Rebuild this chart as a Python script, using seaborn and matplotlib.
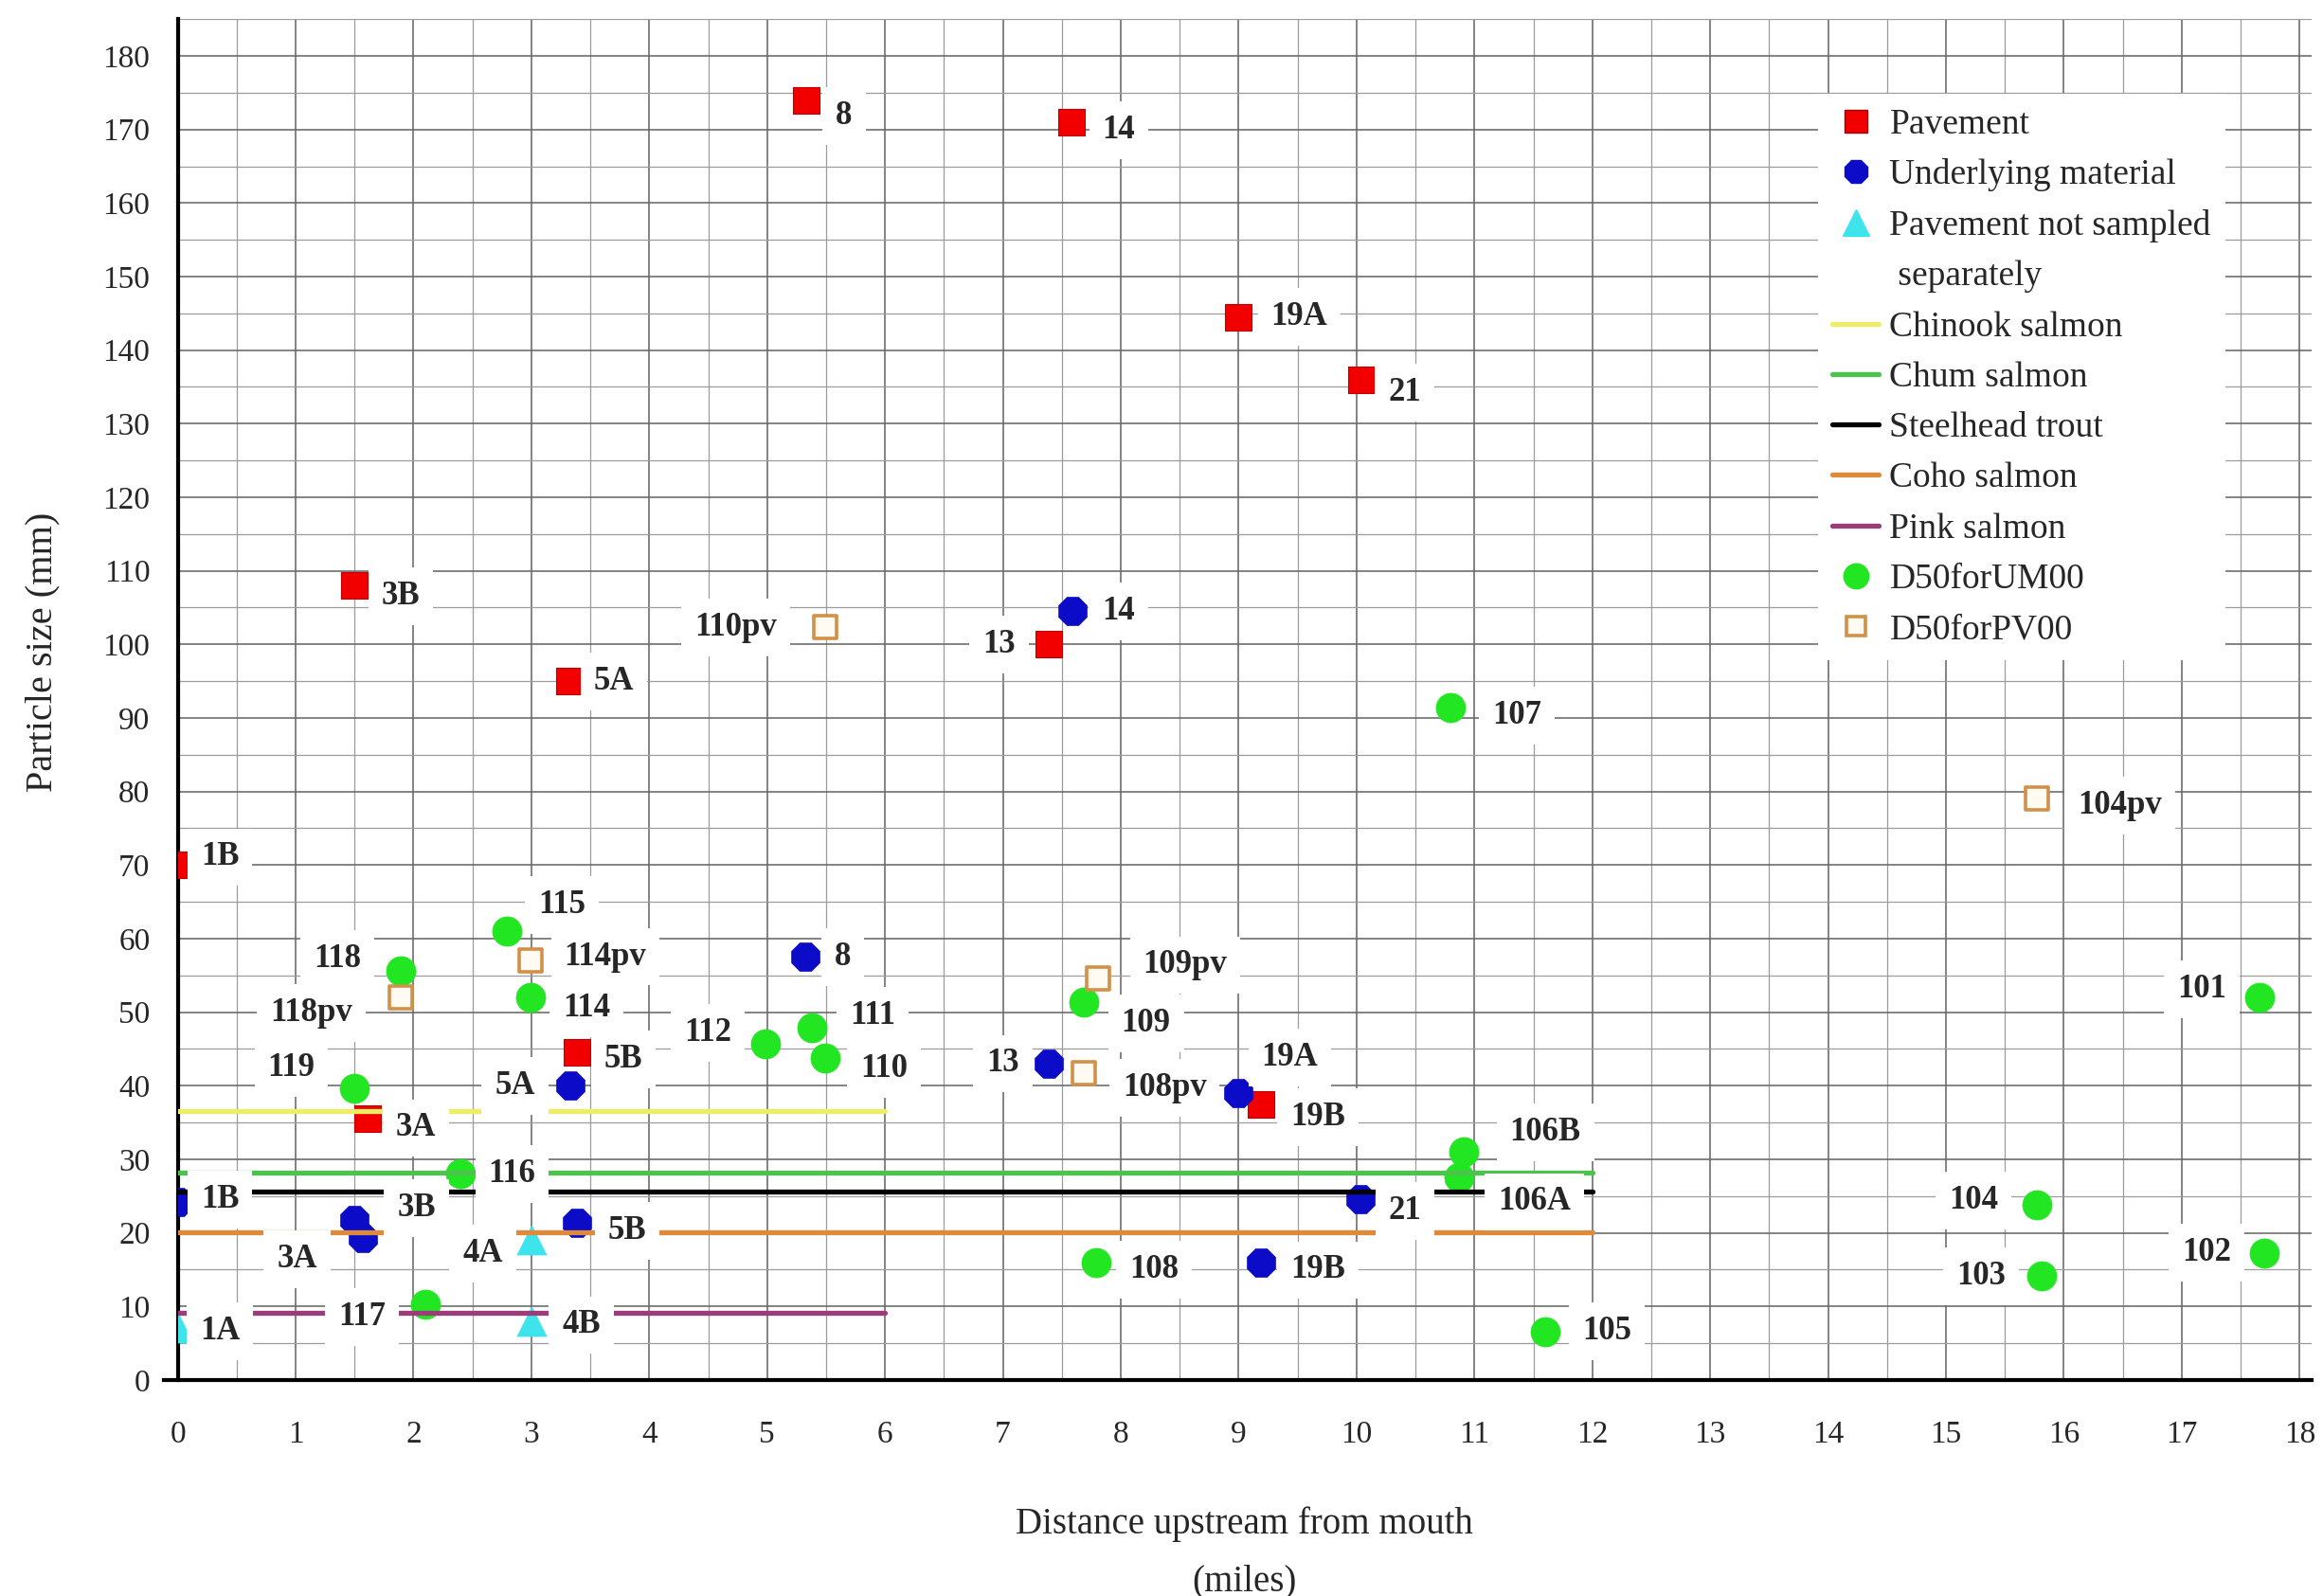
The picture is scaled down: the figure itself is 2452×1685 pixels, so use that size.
import matplotlib
matplotlib.use("Agg")
import matplotlib.pyplot as plt
import numpy as np
import pandas as pd
import seaborn as sns
from matplotlib.lines import Line2D
from matplotlib.ticker import MultipleLocator

# ---------------------------------------------------------------------------
# Sampling sites: distance upstream from the mouth (miles) and particle size (mm)
# ---------------------------------------------------------------------------
pavement_sites = ["8", "14", "19A", "21", "3B", "5A", "13", "1B", "5B", "3A", "19B"]
pavement_miles = [5.33, 7.58, 9.0, 10.04, 1.5, 3.32, 7.39, 0.0, 3.39, 1.61, 9.19]
pavement_mm = [174, 171, 144.5, 136, 108, 95, 100, 70, 44.5, 35.5, 37.5]

under_sites = ["14", "8", "13", "5A", "19A", "1B", "3B", "3A", "5B", "21", "19B"]
under_miles = [7.59, 5.32, 7.39, 3.33, 9.0, 0.0, 1.5, 1.57, 3.39, 10.03, 9.19]
under_mm = [104.5, 57.5, 43, 40, 39, 24.2, 21.7, 19.3, 21.3, 24.6, 16]

nosep_sites = ["1A", "4A", "4B"]
nosep_miles = [0.0, 3.0, 3.0]
nosep_mm = [7, 19, 8]

um00_sites = ["107", "115", "118", "114", "112", "111", "110", "109", "119", "116",
              "117", "108", "106B", "106A", "105", "104", "103", "102", "101"]
um00_miles = [10.8, 2.79, 1.89, 2.99, 4.99, 5.38, 5.49, 7.69, 1.5, 2.4,
              2.1, 7.79, 10.91, 10.87, 11.6, 15.77, 15.81, 17.7, 17.66]
um00_mm = [91.4, 61, 55.6, 52, 45.7, 47.9, 43.7, 51.3, 39.7, 28,
           10.3, 15.9, 31, 27.6, 6.6, 23.8, 14.1, 17.3, 52]

pv00_sites = ["110pv", "104pv", "114pv", "118pv", "109pv", "108pv"]
pv00_miles = [5.49, 15.77, 2.99, 1.89, 7.81, 7.69]
pv00_mm = [102.3, 79, 57, 52, 54.6, 41.7]

# Spawning-gravel size criteria by species, and the reach they apply to
species = ["Chinook salmon", "Chum salmon", "Steelhead trout", "Coho salmon", "Pink salmon"]
species_mm = [36.5, 28.2, 25.6, 20.1, 9.1]
species_reach_end = [6, 12, 12, 12, 6]

x_ticks = list(range(0, 19))
y_ticks = list(range(0, 181, 10))

# ---------------------------------------------------------------------------
# Styling
# ---------------------------------------------------------------------------
sns.set_style("white")
plt.rcParams["font.family"] = ["Liberation Serif", "DejaVu Serif"]

species_colors = ["#eeee66", "#4cc44c", "#000000", "#de8a3a", "#9c3c7a"]

# label offsets (points) relative to each marker
label_offsets = {
    "pavement": [(29, -12), (36, -6), (46, 0), (33, -10), (35, -8), (34, 0),
                 (-38, 0), (32, 6), (35, -5), (37, -7), (43, -10)],
    "under": [(35, 0), (29, 0), (-35, 0), (-42, 0), (39, 27), (32, 2),
              (47, 9), (-50, -16), (38, -6), (34, -9), (43, -6)],
    "nosep": [(32, -2), (-37, -10), (38, -3)],
    "um00": [(50, -6), (42, 20), (-48, 9), (43, -8), (-44, 8), (46, 9), (45, -8),
             (47, -16), (-48, 15), (39, 0), (-48, -10), (44, -5), (62, 15),
             (57, -19), (47, 0), (-48, 3), (-46, 0), (-44, 0), (-44, 6)],
    "pv00": [(-68, 0), (63, -5), (57, 3), (-68, -12), (66, 10), (61, -11)],
}

fig = plt.figure(figsize=(24.52, 16.85), dpi=100)
ax = fig.add_axes([0.0765, 0.1354, 0.9185, 0.8526])

# species criteria lines
for name, val, end, col in zip(species, species_mm, species_reach_end, species_colors):
    sns.lineplot(x=[0, end], y=[val, val], color=col, linewidth=3.8,
                 ax=ax, zorder=4, legend=False)

groups = [
    ("pavement", pavement_sites, pavement_miles, pavement_mm,
     dict(marker="s", s=390, color="#f20000", edgecolor="#c00000", linewidth=0.8)),
    ("under", under_sites, under_miles, under_mm,
     dict(marker="8", s=540, color="#0b0bc8", edgecolor="#0b0bc8", linewidth=0.5)),
    ("nosep", nosep_sites, nosep_miles, nosep_mm,
     dict(marker="^", s=500, color="#3ee4ec", edgecolor="#3ee4ec", linewidth=0.5)),
    ("um00", um00_sites, um00_miles, um00_mm,
     dict(marker="o", s=500, color="#22e622", edgecolor="#22e622", linewidth=0.5)),
    ("pv00", pv00_sites, pv00_miles, pv00_mm,
     dict(marker="s", s=310, facecolor="#fffaf2", edgecolor="#d29048", linewidth=2.6)),
]

for key, sites, miles, mm, kw in groups:
    df = pd.DataFrame({"miles": miles, "mm": mm, "site": sites})
    sns.scatterplot(data=df, x="miles", y="mm", ax=ax, zorder=3, legend=False, **kw)
    for (site, xv, yv), (dx, dy) in zip(zip(sites, miles, mm), label_offsets[key]):
        ax.annotate(site, (xv, yv), xytext=(dx, dy), textcoords="offset points",
                    ha="center", va="center", fontsize=25, fontweight="bold",
                    zorder=5,
                    bbox=dict(boxstyle="square,pad=0.4", facecolor="white",
                              edgecolor="none"))

# axes, ticks and grid
ax.set_xlim(0, 18.1)
ax.set_ylim(0, 185)
ax.set_xticks(x_ticks)
ax.set_yticks(y_ticks)
ax.xaxis.set_minor_locator(MultipleLocator(0.5))
ax.yaxis.set_minor_locator(MultipleLocator(5))
ax.grid(which="major", color="#686868", linewidth=1.15, zorder=0)
ax.grid(which="minor", color="#9c9c9c", linewidth=0.9, zorder=0)
ax.set_axisbelow(True)

for side in ("top", "right"):
    ax.spines[side].set_visible(False)
for side in ("left", "bottom"):
    ax.spines[side].set_linewidth(3.0)
    ax.spines[side].set_color("black")
ax.spines["bottom"].set_bounds(-0.12, 18.1)

ax.tick_params(axis="x", which="major", direction="out", length=17, width=2.6,
               pad=14, labelsize=24)
ax.tick_params(axis="x", which="minor", direction="out", length=9, width=2.6)
ax.tick_params(axis="y", which="major", direction="out", length=13, width=2.6,
               pad=8, labelsize=24)
ax.tick_params(axis="y", which="minor", direction="out", length=7, width=2.6)

ax.set_xlabel("Distance upstream from mouth\n(miles)", fontsize=28, linespacing=1.85)
ax.xaxis.label.set_va("center")
ax.xaxis.set_label_coords(0.5, -0.127)
ax.set_ylabel("Particle size (mm)", fontsize=29)
ax.yaxis.label.set_va("center")
ax.yaxis.set_label_coords(-0.0635, 0.535)

# legend
handles = [
    Line2D([], [], linestyle="none", marker="s", markersize=17,
           markerfacecolor="#f20000", markeredgecolor="#a00000"),
    Line2D([], [], linestyle="none", marker="8", markersize=19,
           markerfacecolor="#0b0bc8", markeredgecolor="#0b0bc8"),
    Line2D([], [], linestyle="none", marker="^", markersize=20,
           markerfacecolor="#3ee4ec", markeredgecolor="#3ee4ec"),
    Line2D([], [], linestyle="none"),
]
for col in species_colors:
    handles.append(Line2D([], [], color=col, linewidth=3.8))
handles += [
    Line2D([], [], linestyle="none", marker="o", markersize=19,
           markerfacecolor="#22e622", markeredgecolor="#22e622"),
    Line2D([], [], linestyle="none", marker="s", markersize=15,
           markerfacecolor="#fffaf2", markeredgecolor="#d29048", markeredgewidth=2.6),
]
labels = ["Pavement", "Underlying material", "Pavement not sampled", " separately"] + \
    species + ["D50forUM00", "D50forPV00"]
leg = ax.legend(handles, labels, loc="upper left", bbox_to_anchor=(0.769, 0.945),
                fontsize=27, frameon=True, facecolor="white", edgecolor="none",
                framealpha=1.0, fancybox=False, handlelength=1.3,
                handletextpad=0.3, labelspacing=0.5, borderpad=0.4,
                borderaxespad=0)
leg.set_zorder(6)

fig.savefig("out.png", dpi=100, facecolor="white")
